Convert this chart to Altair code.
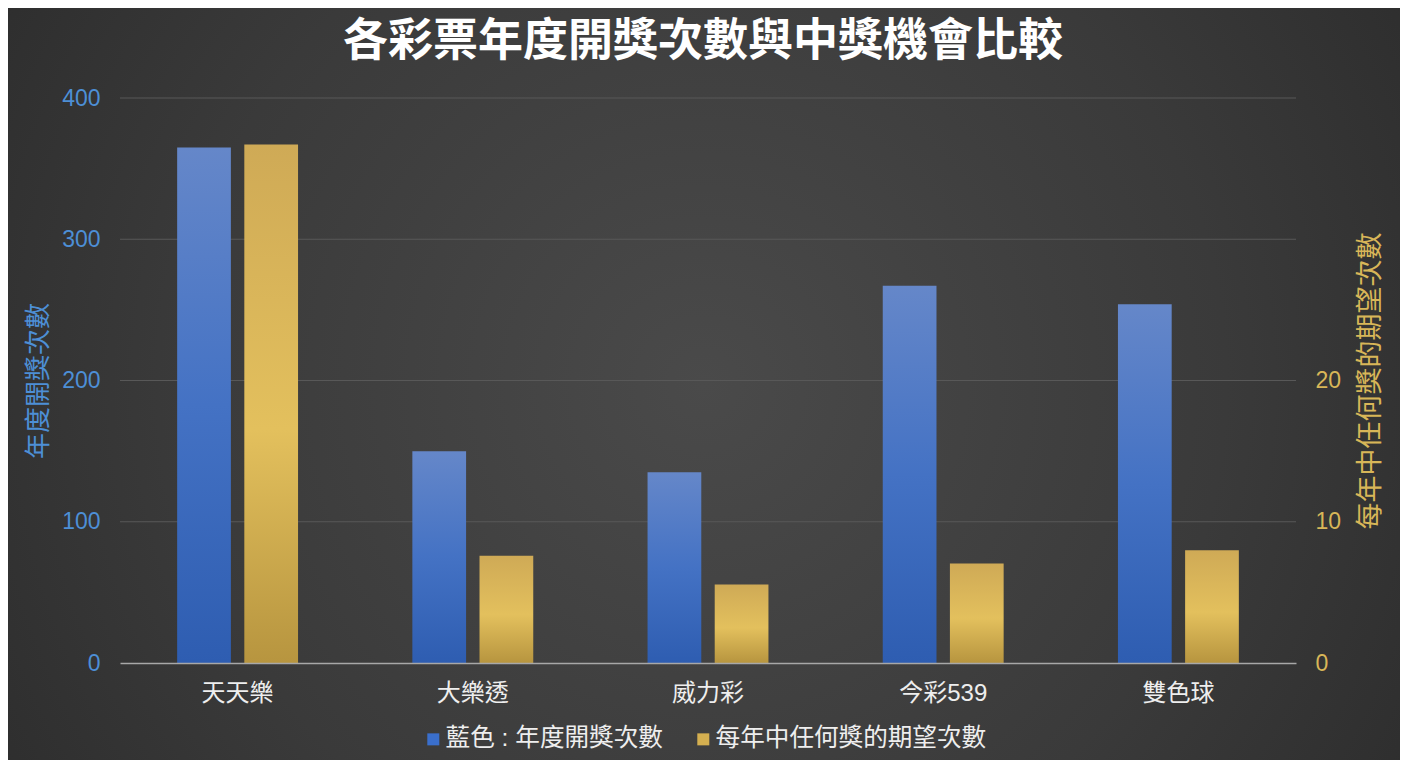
import altair as alt
import pandas as pd

# ---- data ----
categories = ["天天樂", "大樂透", "威力彩", "今彩539", "雙色球"]
draws_per_year = [365, 150, 135, 267, 254]
expected_wins = [36.7, 7.6, 5.55, 7.04, 7.98]
series_names = ["藍色 : 年度開獎次數", "每年中任何獎的期望次數"]
left_ticks = [0, 100, 200, 300, 400]
right_ticks = [0, 10, 20]
grid_values = [100, 200, 300, 400]

# ---- layout / style ----
W, H = 1176, 565
PAD = {"left": 112, "top": 90, "right": 104, "bottom": 97}
FONT = "Liberation Sans, Noto Sans CJK TC"
BLUE_TEXT = "#4d8fd6"
GOLD_TEXT = "#d8b658"
LEGEND_COLORS = ["#3a6fcc", "#d4af50"]

rows = []
for c, d, e in zip(categories, draws_per_year, expected_wins):
    rows.append({"lottery": c, "series": series_names[0], "value": d})
    rows.append({"lottery": c, "series": series_names[1], "value": e})
df = pd.DataFrame(rows)

bg_grad = alt.RadialGradient(
    gradient="radial", x1=0.5, y1=0.5, r1=0, x2=0.5, y2=0.5, r2=0.75,
    stops=[alt.GradientStop(color="#4a4a4a", offset=0),
           alt.GradientStop(color="#3a3a3a", offset=0.5),
           alt.GradientStop(color="#242424", offset=1)])
blue_grad = alt.LinearGradient(
    gradient="linear", x1=0, y1=0, x2=0, y2=1,
    stops=[alt.GradientStop(color="#6587c9", offset=0),
           alt.GradientStop(color="#4472c4", offset=0.5),
           alt.GradientStop(color="#2e5db1", offset=1)])
gold_grad = alt.LinearGradient(
    gradient="linear", x1=0, y1=0, x2=0, y2=1,
    stops=[alt.GradientStop(color="#cfaa56", offset=0),
           alt.GradientStop(color="#e3c05d", offset=0.55),
           alt.GradientStop(color="#b7953f", offset=1)])

x_enc = alt.X(
    "lottery:N", sort=categories,
    scale=alt.Scale(paddingInner=0.486, paddingOuter=0.243),
    axis=alt.Axis(title=None, labelAngle=0, labelFontSize=24, labelColor="#eeeeee",
                  labelFont=FONT, labelPadding=18, ticks=False, domainColor="#a8a8a8",
                  domainWidth=1.5, grid=False, zindex=1))
xoff = alt.XOffset("series:N", sort=series_names,
                   scale=alt.Scale(paddingInner=0.2, paddingOuter=0))

background = alt.Chart(alt.Data(values=[{"k": 1}])).mark_rect(fill=bg_grad).encode(
    x=alt.value(-PAD["left"]), x2=alt.value(W + PAD["right"]),
    y=alt.value(-PAD["top"]), y2=alt.value(H + PAD["bottom"]))

grid = alt.Chart(alt.Data(values=[{"g": v} for v in grid_values])).mark_rule(
    color="#585858", strokeWidth=1).encode(
    y=alt.Y("g:Q", scale=alt.Scale(domain=[0, 400], nice=False), axis=None),
    x=alt.value(0), x2=alt.value(W))

blue = alt.Chart(df).transform_filter(alt.datum.series == series_names[0]).mark_bar(
    fill=blue_grad).encode(
    x=x_enc, xOffset=xoff,
    y=alt.Y("value:Q", scale=alt.Scale(domain=[0, 400], nice=False),
            axis=alt.Axis(orient="left", values=left_ticks, title="年度開獎次數",
                          titleColor=BLUE_TEXT, titleFontSize=26, titleFontWeight="normal",
                          titleFont=FONT, titlePadding=10, labelColor=BLUE_TEXT,
                          labelFontSize=23, labelFont=FONT, labelPadding=20, ticks=False,
                          domain=False, grid=False, zindex=1)))

gold = alt.Chart(df).transform_filter(alt.datum.series == series_names[1]).mark_bar(
    fill=gold_grad).encode(
    x=x_enc, xOffset=xoff,
    y=alt.Y("value:Q", scale=alt.Scale(domain=[0, 40], nice=False),
            axis=alt.Axis(orient="right", values=right_ticks, title="每年中任何獎的期望次數",
                          titleAngle=270, titleColor=GOLD_TEXT, titleFontSize=27,
                          titleFontWeight="normal", titleFont=FONT, titlePadding=44,
                          labelColor=GOLD_TEXT, labelFontSize=23, labelFont=FONT,
                          labelPadding=19, ticks=False, domain=False, grid=False, zindex=1)))

legend_layer = alt.Chart(alt.Data(values=[{"series": s} for s in series_names])).mark_square(
    opacity=0, size=10).encode(
    color=alt.Color("series:N", sort=series_names,
                    scale=alt.Scale(domain=series_names, range=LEGEND_COLORS),
                    legend=alt.Legend(title=None, orient="none", legendX=301, legendY=629,
                                      direction="horizontal",
                                      symbolType="square", symbolSize=144, symbolOpacity=1,
                                      symbolStrokeWidth=0, labelFontSize=24.6,
                                      labelColor="#eeeeee", labelFont=FONT, columnPadding=28,
                                      labelOffset=0, labelLimit=500, zindex=1)))

chart = alt.layer(background, grid, blue, gold, legend_layer).resolve_scale(
    y="independent").properties(
    width=W, height=H,
    autosize=alt.AutoSizeParams(type="none"),
    padding=PAD,
    background="#333333",
    title=alt.Title("各彩票年度開獎次數與中獎機會比較", fontSize=45, fontWeight="bold",
                    color="#ffffff", font=FONT, anchor="middle", frame="group",
                    offset=0, dy=57, dx=-5, zindex=1),
).configure_view(stroke=None)

chart.save("out.html", embed_options={"renderer": "svg", "actions": False})
